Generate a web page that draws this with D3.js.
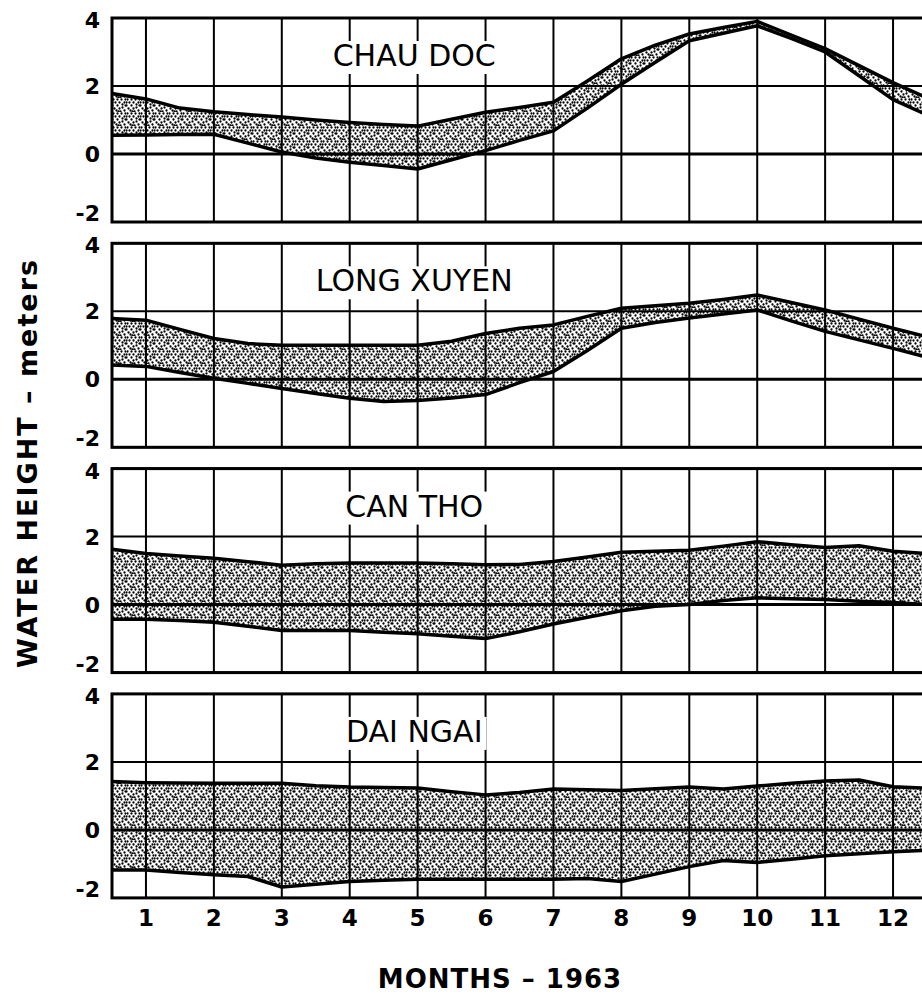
<!DOCTYPE html>
<html>
<head>
<meta charset="utf-8">
<script src="https://cdnjs.cloudflare.com/ajax/libs/d3/7.8.5/d3.min.js"></script>
<style>
  body { margin: 0; background: #fff; }
  svg { display: block; }
</style>
</head>
<body>
<div id="chart"></div>
<script>
// water height ranges, 1963, four Mekong delta stations
var months = [0.5, 1, 1.5, 2, 2.5, 3, 3.5, 4, 4.5, 5, 5.5, 6, 6.5, 7, 7.5, 8, 8.5, 9, 9.5, 10, 10.5, 11, 11.5, 12, 12.5];
var stations = ['CHAU DOC', 'LONG XUYEN', 'CAN THO', 'DAI NGAI'];

var chauDocHigh = [1.78, 1.62, 1.35, 1.24, 1.16, 1.09, 1.0, 0.93, 0.87, 0.82, 1.02, 1.23, 1.37, 1.52, 2.15, 2.8, 3.2, 3.53, 3.72, 3.9, 3.5, 3.1, 2.6, 2.1, 1.65];
var chauDocLow = [0.55, 0.56, 0.57, 0.58, 0.32, 0.06, -0.12, -0.24, -0.34, -0.44, -0.17, 0.1, 0.4, 0.68, 1.35, 2.05, 2.7, 3.33, 3.55, 3.77, 3.4, 3.0, 2.3, 1.6, 1.15];

var longXuyenHigh = [1.79, 1.74, 1.47, 1.2, 1.05, 1.0, 1.0, 1.0, 1.0, 1.0, 1.12, 1.35, 1.5, 1.6, 1.85, 2.09, 2.16, 2.24, 2.35, 2.48, 2.26, 2.04, 1.77, 1.5, 1.25];
var longXuyenLow = [0.42, 0.38, 0.2, 0.03, -0.12, -0.27, -0.42, -0.56, -0.65, -0.62, -0.55, -0.45, -0.1, 0.23, 0.85, 1.5, 1.67, 1.8, 1.92, 2.04, 1.72, 1.41, 1.16, 0.91, 0.65];

var canThoHigh = [1.63, 1.5, 1.43, 1.36, 1.26, 1.16, 1.2, 1.22, 1.22, 1.22, 1.2, 1.17, 1.18, 1.27, 1.4, 1.54, 1.57, 1.6, 1.72, 1.85, 1.76, 1.68, 1.73, 1.57, 1.5];
var canThoLow = [-0.43, -0.43, -0.47, -0.52, -0.64, -0.76, -0.76, -0.76, -0.81, -0.86, -0.93, -1.0, -0.8, -0.57, -0.37, -0.18, -0.05, 0.0, 0.12, 0.2, 0.17, 0.15, 0.1, 0.06, 0.0];

var daiNgaiHigh = [1.42, 1.39, 1.38, 1.37, 1.37, 1.37, 1.3, 1.26, 1.25, 1.23, 1.12, 1.03, 1.1, 1.2, 1.18, 1.16, 1.21, 1.26, 1.2, 1.29, 1.37, 1.44, 1.47, 1.27, 1.23];
var daiNgaiLow = [-1.18, -1.18, -1.25, -1.32, -1.37, -1.68, -1.6, -1.52, -1.48, -1.45, -1.45, -1.45, -1.45, -1.45, -1.43, -1.52, -1.3, -1.08, -0.9, -0.96, -0.86, -0.76, -0.7, -0.64, -0.6];

var highs = [chauDocHigh, longXuyenHigh, canThoHigh, daiNgaiHigh];
var lows = [chauDocLow, longXuyenLow, canThoLow, daiNgaiLow];

var monthTicks = [1, 2, 3, 4, 5, 6, 7, 8, 9, 10, 11, 12];
var heightTicks = [-2, 0, 2, 4];
var heightLabels = ['-2', '0', '2', '4'];

var width = 922;
var height = 1001;
var panel_top = 18;
var panel_step = 225.3;
var panel_height = 204;
var font = "'DejaVu Sans', sans-serif";

var svg = d3.select('#chart')
  .append('svg')
  .attr('width', width)
  .attr('height', height);

svg.append('rect')
  .attr('width', width)
  .attr('height', height)
  .attr('fill', '#fff');

// stipple texture for the bands
var dots = [[1,1],[5,1],[9,1],[13,1],[12,4],[3,4],[7,4],[0,4],[10,6],[0,7],[5,7],[13,7],[2,10],[7,10],[10,9],[12,12],[4,12],[8,13],[6,13]];
var pattern = svg.append('defs').append('pattern')
  .attr('id', 'stipple')
  .attr('patternUnits', 'userSpaceOnUse')
  .attr('width', 14)
  .attr('height', 14);
pattern.append('rect').attr('width', 14).attr('height', 14).attr('fill', '#fff');
pattern.selectAll('circle')
  .data(dots)
  .enter()
  .append('circle')
  .attr('cx', function (d) {return d[0] + 0.5;})
  .attr('cy', function (d) {return d[1] + 0.5;})
  .attr('r', 1.15)
  .attr('fill', '#000');

var x = d3.scaleLinear().domain([0.5, 12.5]).range([112, 927]);

stations.forEach(function (name, i) {
  var top = panel_top + i * panel_step;
  var y = d3.scaleLinear().domain([-2, 4]).range([top + panel_height, top]);
  var g = svg.append('g').attr('class', 'panel');

  var rows = months.map(function (m, j) {
    return {m: m, hi: highs[i][j], lo: lows[i][j]};
  });

  var area = d3.area()
    .x(function (d) {return x(d.m);})
    .y0(function (d) {return y(d.lo);})
    .y1(function (d) {return y(d.hi);});

  var lineHi = d3.line().x(function (d) {return x(d.m);}).y(function (d) {return y(d.hi);});
  var lineLo = d3.line().x(function (d) {return x(d.m);}).y(function (d) {return y(d.lo);});

  g.append('path')
    .datum(rows)
    .attr('d', area)
    .attr('fill', 'url(#stipple)');

  // grid
  g.selectAll('.vgrid')
    .data(monthTicks)
    .enter()
    .append('line')
    .attr('class', 'vgrid')
    .attr('x1', function (d) {return x(d);})
    .attr('x2', function (d) {return x(d);})
    .attr('y1', y(4))
    .attr('y2', y(-2))
    .attr('stroke', '#000')
    .attr('stroke-width', 2);

  g.selectAll('.hgrid')
    .data(heightTicks)
    .enter()
    .append('line')
    .attr('class', 'hgrid')
    .attr('x1', x(0.5))
    .attr('x2', width)
    .attr('y1', function (d) {return y(d);})
    .attr('y2', function (d) {return y(d);})
    .attr('stroke', '#000')
    .attr('stroke-width', function (d) {return d === 0 ? 3 : 2;});

  // frame (right side runs off the page)
  g.append('rect')
    .attr('x', x(0.5))
    .attr('y', y(4))
    .attr('width', x(12.5) - x(0.5))
    .attr('height', y(-2) - y(4))
    .attr('fill', 'none')
    .attr('stroke', '#000')
    .attr('stroke-width', 3);

  g.append('path')
    .datum(rows)
    .attr('d', lineHi)
    .attr('fill', 'none')
    .attr('stroke', '#000')
    .attr('stroke-width', 3.5)
    .attr('stroke-linejoin', 'round');

  g.append('path')
    .datum(rows)
    .attr('d', lineLo)
    .attr('fill', 'none')
    .attr('stroke', '#000')
    .attr('stroke-width', 3.5)
    .attr('stroke-linejoin', 'round');

  // station name on a white patch
  var label = g.append('text')
    .attr('x', x(4.95))
    .attr('y', top + 48)
    .attr('text-anchor', 'middle')
    .attr('font-family', font)
    .attr('font-size', 30)
    .attr('fill', '#000')
    .text(name);
  var bb = label.node().getBBox();
  g.insert('rect', 'text')
    .attr('x', bb.x - 4)
    .attr('y', bb.y + 3)
    .attr('width', bb.width + 8)
    .attr('height', bb.height - 2)
    .attr('fill', '#fff');

  // y tick labels; the -2 sits a little above its line, as drawn
  g.selectAll('.ylab')
    .data(heightTicks)
    .enter()
    .append('text')
    .attr('class', 'ylab')
    .attr('x', 100)
    .attr('y', function (d) {return y(d) + (d === -2 ? -9 : d === 4 ? 2 : 0);})
    .attr('dy', '0.36em')
    .attr('text-anchor', 'end')
    .attr('font-family', font)
    .attr('font-weight', 'bold')
    .attr('font-size', 22)
    .text(function (d, k) {return heightLabels[k];});
});

// month labels under the last panel
svg.selectAll('.xlab')
  .data(monthTicks)
  .enter()
  .append('text')
  .attr('class', 'xlab')
  .attr('x', function (d) {return x(d);})
  .attr('y', 926)
  .attr('text-anchor', 'middle')
  .attr('font-family', font)
  .attr('font-weight', 'bold')
  .attr('font-size', 23)
  .text(function (d) {return d;});

svg.append('text')
  .attr('x', 500)
  .attr('y', 988)
  .attr('text-anchor', 'middle')
  .attr('font-family', font)
  .attr('font-weight', 'bold')
  .attr('font-size', 26)
  .attr('letter-spacing', 1)
  .text('MONTHS \u2013 1963');

svg.append('text')
  .attr('transform', 'translate(37,463) rotate(-90)')
  .attr('text-anchor', 'middle')
  .attr('font-family', font)
  .attr('font-weight', 'bold')
  .attr('font-size', 27)
  .attr('letter-spacing', 2)
  .text('WATER HEIGHT \u2013 meters');
</script>
</body>
</html>
